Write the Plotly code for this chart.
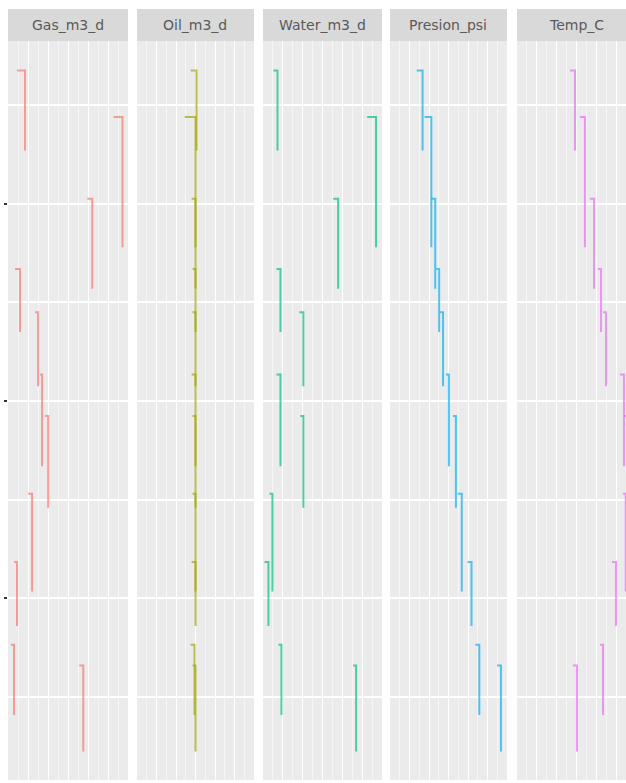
import plotly.graph_objects as go

# ---------------- data ----------------
facets = ["Gas_m3_d", "Oil_m3_d", "Water_m3_d", "Presion_psi", "Temp_C"]
colors = ["#F8766D", "#A3A500", "#00BF7D", "#00B0F6", "#E76BF3"]

# time of each test interval (top = start, bottom = end)
interval_start = [73.5, 68.8, 60.5, 53.4, 49.0, 42.7, 38.5, 30.6, 23.7, 15.3, 13.2]
interval_end = [65.4, 55.6, 51.4, 47.0, 41.5, 33.4, 29.2, 20.7, 17.2, 8.2, 4.5]

gas_first = [900, 10550, 7930, 700, 2710, 3210, 3710, 2010, 600, 300, 7130]
gas_value = [1700, 11450, 8430, 1200, 3010, 3410, 4020, 2410, 900, 600, 7530]

oil_first = [27.5, 24.5, 28.0, 28.5, 28.5, 28.0, 28.5, 28.5, 28.0, 27.5, 28.5]
oil_value = [30.5, 30.0, 30.0, 30.0, 30.0, 30.0, 30.0, 30.0, 30.0, 29.5, 30.0]

water_first = [10.5, 105.0, 70.8, 13.6, 36.6, 13.6, 37.6, 6.5, 1.5, 15.6, 90.9]
water_value = [14.6, 114.0, 75.8, 17.6, 40.7, 17.6, 40.7, 9.5, 5.5, 18.6, 93.9]

pres_first = [685, 885, 1060, 1185, 1285, 1435, 1615, 1740, 1990, 2190, 2745]
pres_value = [835, 1060, 1160, 1260, 1360, 1510, 1690, 1840, 2090, 2290, 2845]

temp_first = [66.6, 71.6, 76.6, 80.7, 83.2, 91.7, 94.0, 93.2, 87.7, 81.7, 68.1]
temp_value = [69.1, 74.1, 78.7, 82.2, 84.7, 93.7, 96.0, 94.6, 89.7, 83.2, 70.1]

firsts = [gas_first, oil_first, water_first, pres_first, temp_first]
values = [gas_value, oil_value, water_value, pres_value, temp_value]

x_ranges = [[0, 12000], [0, 60], [0, 120], [0, 3000], [40, 94.73]]
x_major = [2000, 10, 20, 500, 10]
x_minor = [1000, 5, 10, 250, 5]
y_range = [1.6, 76.5]

# ---------------- layout geometry ----------------
W, H = 626, 783
panel_px = [(8, 128), (137, 254), (263, 382), (390, 507), (517, 626)]
panel_top, panel_bottom = 41, 780
strip_top = 9

fig = go.Figure()

for i, name in enumerate(facets):
    ax = "" if i == 0 else str(i + 1)
    for k in range(len(interval_start)):
        fig.add_trace(go.Scatter(
            x=[firsts[i][k], values[i][k]],
            y=[interval_start[k], interval_end[k]],
            mode="lines",
            line=dict(color=colors[i], width=2, shape="hv"),
            opacity=0.68,
            showlegend=False,
            hoverinfo="skip",
            xaxis="x" + ax, yaxis="y" + ax,
        ))
    x0, x1 = panel_px[i]
    fig.update_layout(**{
        "xaxis" + ax: dict(
            domain=[x0 / W, x1 / W], range=x_ranges[i], anchor="y" + ax,
            showticklabels=False, ticks="", zeroline=False, showline=False,
            showgrid=True, gridcolor="white", gridwidth=1.1, dtick=x_major[i], tick0=0,
            minor=dict(dtick=x_minor[i], tick0=0, showgrid=True, gridcolor="#F6F6F6", gridwidth=0.8),
            fixedrange=True,
        ),
        "yaxis" + ax: dict(
            domain=[(H - panel_bottom) / H, (H - panel_top) / H], range=y_range,
            anchor="x" + ax, showticklabels=False,
            ticks="outside" if i == 0 else "", ticklen=3, tickwidth=1.5, tickcolor="#333333",
            zeroline=False, showline=False,
            showgrid=True, gridcolor="white", gridwidth=2, dtick=20, tick0=0,
            minor=dict(dtick=10, tick0=0, showgrid=True, gridcolor="white", gridwidth=1.5),
            fixedrange=True,
        ),
    })
    # strip
    fig.add_shape(type="rect", xref="paper", yref="paper",
                  x0=x0 / W, x1=x1 / W,
                  y0=(H - panel_top) / H, y1=(H - strip_top) / H,
                  fillcolor="#D9D9D9", line=dict(width=0), layer="below")
    fig.add_annotation(text=name, xref="paper", yref="paper",
                       x=(x0 + (x1 - x0) / 2 if i < 4 else x0 + 119.5 / 2) / W,
                       y=(H - (strip_top + panel_top) / 2) / H,
                       showarrow=False, xanchor="center", yanchor="middle",
                       font=dict(family="DejaVu Sans", size=14, color="#5a5a5a"))

fig.update_layout(
    width=W, height=H,
    margin=dict(l=0, r=0, t=0, b=0),
    paper_bgcolor="white", plot_bgcolor="#EBEBEB",
    showlegend=False,
)

fig.write_html("out.html")
